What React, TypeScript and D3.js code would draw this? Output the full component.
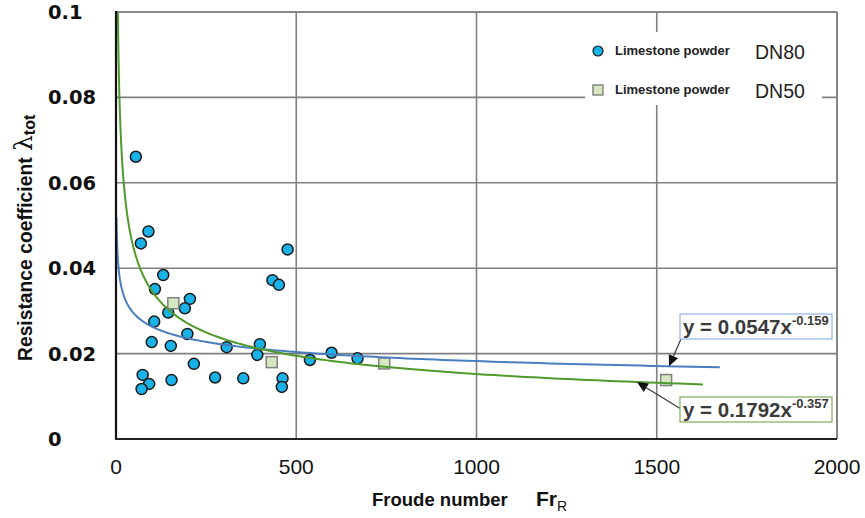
import React from 'react';
import * as d3 from 'd3';

// DN80 measurements (blue dots)
const DN80_FR = [55, 90, 69, 476, 131, 434, 452, 108, 205, 191, 145, 106, 198, 99, 152, 307, 399, 392, 216, 74, 92, 71, 154, 275, 353, 462, 460, 538, 598, 670];
const DN80_LAMBDA = [0.0661, 0.0486, 0.0458, 0.0444, 0.0384, 0.0372, 0.0361, 0.0351, 0.0328, 0.0306, 0.0296, 0.0275, 0.0246, 0.0227, 0.0218, 0.0215, 0.0222, 0.0197, 0.0176, 0.015, 0.0129, 0.0117, 0.0138, 0.0144, 0.0142, 0.0142, 0.0122, 0.0185, 0.0202, 0.0189];

// DN50 measurements (green squares)
const DN50_FR = [159, 432, 744, 1526];
const DN50_LAMBDA = [0.0318, 0.018, 0.0177, 0.0138];

// power trendlines y = a * x^b, as printed on the chart
const BLUE_FIT = { a: 0.0547, b: -0.159, from: 1.4, to: 1675, label: '0.0547', exp: '-0.159' };
const GREEN_FIT = { a: 0.1792, b: -0.357, from: 4, to: 1628, label: '0.1792', exp: '-0.357' };

const X_TICKS = [0, 500, 1000, 1500, 2000];
const Y_TICKS = [0, 0.02, 0.04, 0.06, 0.08, 0.1];

const W = 865;
const H = 518;

const BLUE = '#4a7ebf';
const GREEN = '#4f9a2b';
const DOT = '#19b2e8';
const SQUARE = '#d5e8c0';
const GRID = '#808080';
const TEXT = '#3a3a3a';
const SANS = "'Liberation Sans', Arial, sans-serif";

const x = d3.scaleLinear().domain([0, 2000]).range([116, 837]);
const y = d3.scaleLinear().domain([0, 0.1]).range([439, 12]);

const fitPoints = (fit: typeof BLUE_FIT) =>
  d3.range(0, 301).map(i => {
    const fr = fit.from * Math.pow(fit.to / fit.from, i / 300);
    return [fr, fit.a * Math.pow(fr, fit.b)] as [number, number];
  });

const line = d3.line<[number, number]>().x(d => x(d[0])).y(d => y(d[1]));

const Equation: React.FC<{ fit: typeof BLUE_FIT; top: number; color: string; tipFr: number; from: [number, number] }> = ({ fit, top, color, tipFr, from }) => {
  const tipX = x(tipFr);
  const tipY = y(fit.a * Math.pow(tipFr, fit.b));
  const ang = Math.atan2(tipY - from[1], tipX - from[0]);
  const len = 11;
  const hw = 5;
  const bx = tipX - len * Math.cos(ang);
  const by = tipY - len * Math.sin(ang);
  const p1 = [bx + hw * Math.sin(ang), by - hw * Math.cos(ang)];
  const p2 = [bx - hw * Math.sin(ang), by + hw * Math.cos(ang)];
  return (
    <g>
      <line x1={from[0]} y1={from[1]} x2={bx} y2={by} stroke={TEXT} strokeWidth={1.2} />
      <path d={`M${tipX},${tipY}L${p1[0]},${p1[1]}L${p2[0]},${p2[1]}Z`} fill="#111" />
      <rect x={680} y={top} width={152} height={25} fill="#fff" stroke={color} strokeWidth={1.2} />
      <text x={683} y={top + 20} fontFamily={SANS} fontWeight="bold" fontSize={20.5} fill={TEXT}>
        y = {fit.label}x
        <tspan dy={-9} fontSize={13}>{fit.exp}</tspan>
      </text>
    </g>
  );
};

export default function App() {
  return (
    <svg width={W} height={H} style={{ position: 'absolute', left: 0, top: 0, background: '#fff' }}>
      <defs>
        <clipPath id="plot">
          <rect x={x(0)} y={y(0.1)} width={x(2000) - x(0)} height={y(0) - y(0.1)} />
        </clipPath>
      </defs>

      {/* grid */}
      {X_TICKS.slice(1).map(t => (
        <line key={'gx' + t} x1={x(t)} x2={x(t)} y1={y(0.1)} y2={y(0)} stroke={GRID} strokeWidth={1.6} />
      ))}
      {Y_TICKS.slice(1).map(t => (
        <line key={'gy' + t} x1={x(0)} x2={x(2000)} y1={y(t)} y2={y(t)} stroke={GRID} strokeWidth={1.6} />
      ))}

      {/* legend background hides grid */}
      <rect x={585} y={32} width={237} height={73} fill="#fff" />
      <circle cx={598} cy={51} r={5} fill={DOT} stroke="#1a1a1a" strokeWidth={1.2} />
      <text x={615} y={55} fontFamily={SANS} fontWeight="bold" fontSize={13} fill="#222">Limestone powder</text>
      <text x={755} y={59} fontFamily={SANS} fontSize={19.5} fill="#222">DN80</text>
      <rect x={593} y={85} width={10} height={10} fill={SQUARE} stroke={GRID} strokeWidth={1.4} />
      <text x={615} y={94} fontFamily={SANS} fontWeight="bold" fontSize={13} fill="#222">Limestone powder</text>
      <text x={755} y={98} fontFamily={SANS} fontSize={19.5} fill="#222">DN50</text>

      {/* markers */}
      {DN80_FR.map((fr, i) => (
        <circle key={'c' + i} cx={x(fr)} cy={y(DN80_LAMBDA[i])} r={5.5} fill={DOT} stroke="#1a1a1a" strokeWidth={1.5} />
      ))}
      {DN50_FR.map((fr, i) => (
        <rect key={'s' + i} x={x(fr) - 5.5} y={y(DN50_LAMBDA[i]) - 5.5} width={11} height={11} fill={SQUARE} stroke={GRID} strokeWidth={1.5} />
      ))}

      {/* trendlines */}
      <g clipPath="url(#plot)">
        <path d={line(fitPoints(BLUE_FIT)) || ''} fill="none" stroke={BLUE} strokeWidth={2} />
        <path d={line(fitPoints(GREEN_FIT)) || ''} fill="none" stroke={GREEN} strokeWidth={2} />
      </g>

      {/* frame */}
      <line x1={x(0)} x2={x(2000)} y1={y(0.1)} y2={y(0.1)} stroke={GRID} strokeWidth={1.6} />
      <line x1={x(2000)} x2={x(2000)} y1={y(0.1)} y2={y(0)} stroke={GRID} strokeWidth={1.6} />
      <line x1={x(0)} x2={x(0)} y1={y(0.1) - 1} y2={y(0) + 1} stroke="#111" strokeWidth={2.2} />
      <line x1={x(0) - 1} x2={x(2000)} y1={y(0)} y2={y(0)} stroke="#222" strokeWidth={2.2} />

      {/* equations */}
      <Equation fit={BLUE_FIT} top={314} color="#8fb4e3" tipFr={1534} from={[681, 339]} />
      <Equation fit={GREEN_FIT} top={397} color="#7dae5a" tipFr={1445} from={[681, 409]} />

      {/* tick labels */}
      {Y_TICKS.map(t => (
        <text key={'yl' + t} x={48} y={y(t) + 7} fontFamily="'DejaVu Sans', Verdana, sans-serif" fontWeight="bold" fontSize={19.5} fill="#111">
          {String(+t.toFixed(2))}
        </text>
      ))}
      {X_TICKS.map(t => (
        <text key={'xl' + t} x={x(t)} y={474} textAnchor="middle" fontFamily={SANS} fontSize={21} fill="#111">
          {t}
        </text>
      ))}

      {/* axis titles */}
      <text transform="translate(32,361) rotate(-90)" fontFamily={SANS} fontWeight="bold" fontSize={19.3} fill="#111">
        Resistance coefficient
        <tspan x={210} fontFamily="'DejaVu Serif', serif" fontWeight="normal" fontSize={25}>λ</tspan>
        <tspan fontSize={16} dy={3}>tot</tspan>
      </text>
      <text x={372} y={506} fontFamily={SANS} fontWeight="bold" fontSize={18.5} fill="#111">
        Froude number
        <tspan x={536} fontSize={21}>Fr</tspan>
        <tspan fontSize={14} fontWeight="normal" dy={5}>R</tspan>
      </text>
    </svg>
  );
}
